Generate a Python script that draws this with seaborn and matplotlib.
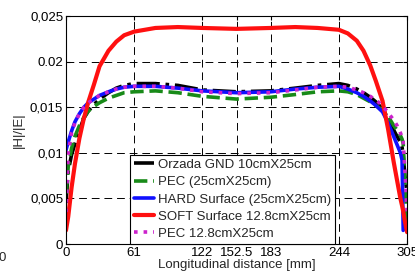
import numpy as np
import pandas as pd
import matplotlib
matplotlib.use("Agg")
import matplotlib.pyplot as plt
import seaborn as sns

# sample positions along the line [mm]
distance = [0, 2, 5, 8, 12, 16, 20, 25, 30, 38, 45, 52, 61,
            80, 100, 122, 152.5, 183, 205, 225,
            244, 252, 260, 266, 272, 277, 283, 288, 293, 296, 299, 300.5, 301.5, 303, 305]

orzada = [0.0045, 0.0080, 0.0098, 0.0110, 0.0125, 0.0138, 0.0146, 0.0153, 0.0159, 0.0166, 0.0171, 0.0174, 0.0176,
          0.0176, 0.0174, 0.0169, 0.0167, 0.0168, 0.0171, 0.0174,
          0.0176, 0.0174, 0.0170, 0.0166, 0.0161, 0.0156, 0.0148, 0.0138, 0.0125, 0.0118, 0.0112, 0.0106, 0.0098, 0.0075, 0.0055]
pec_25 = [0.0055, 0.0085, 0.0105, 0.0118, 0.0130, 0.0139, 0.0146, 0.0151, 0.0155, 0.0160, 0.0163, 0.0166, 0.0167,
          0.0168, 0.0166, 0.0162, 0.0159, 0.0161, 0.0164, 0.0167,
          0.0168, 0.0167, 0.0164, 0.0160, 0.0156, 0.0152, 0.0147, 0.0140, 0.0130, 0.0125, 0.0119, 0.0115, 0.0110, 0.0070, 0.0025]
hard = [0.0103, 0.0112, 0.0124, 0.0134, 0.0143, 0.0150, 0.0155, 0.0159, 0.0163, 0.0167, 0.0170, 0.0172, 0.0173,
        0.0173, 0.0171, 0.0168, 0.0166, 0.0167, 0.0170, 0.0172,
        0.0173, 0.0170, 0.0166, 0.0162, 0.0157, 0.0152, 0.0145, 0.0133, 0.0118, 0.0109, 0.0100, 0.0092, 0.0015, np.nan, np.nan]
soft = [0.0015, 0.0030, 0.0062, 0.0088, 0.0116, 0.0138, 0.0156, 0.0175, 0.0195, 0.0212, 0.0222, 0.0229, 0.0233,
        0.0237, 0.0238, 0.0237, 0.0236, 0.0237, 0.0238, 0.0237,
        0.0235, 0.0231, 0.0223, 0.0212, 0.0196, 0.0179, 0.0157, 0.0126, 0.0090, 0.0070, 0.0050, 0.0042, 0.0036, 0.0025, 0.0013]
pec_128 = [0.0035, 0.0100, 0.0122, 0.0133, 0.0143, 0.0150, 0.0155, 0.0159, 0.0163, 0.0167, 0.0170, 0.0172, 0.0173,
           0.0173, 0.0171, 0.0167, 0.0165, 0.0166, 0.0169, 0.0172,
           0.0173, 0.0172, 0.0169, 0.0166, 0.0162, 0.0158, 0.0152, 0.0144, 0.0136, 0.0130, 0.0122, 0.0117, 0.0112, 0.0080, 0.0035]

labels = ["Orzada GND 10cmX25cm", "PEC (25cmX25cm)", "HARD Surface (25cmX25cm)",
          "SOFT Surface 12.8cmX25cm", "PEC 12.8cmX25cm"]
x_ticks = [0, 61, 122, 152.5, 183, 244, 305]
x_tick_labels = ["0", "61", "122", "152.5", "183", "244", "305"]
y_ticks = [0, 0.005, 0.01, 0.015, 0.02, 0.025]
y_tick_labels = ["0", "0,005", "0,01", "0,015", "0.02", "0,025"]

sns.set_style("ticks")
plt.rcParams["font.family"] = ["Liberation Sans", "DejaVu Sans"]

fig = plt.figure(figsize=(4.15, 2.73), dpi=100)
ax = fig.add_axes([0.159, 0.106, 0.822, 0.835])

series = [orzada, pec_25, hard, soft, pec_128]
colors = ["black", "#188a18", "#1010ff", "#ff1010", "#cc22cc"]
styles = ["-.", "--", "-", "-", ":"]
widths = [2.6, 2.6, 2.6, 3.0, 2.6]

for vals, lab, c, ls, lw in zip(series, labels, colors, styles, widths):
    sns.lineplot(x=distance, y=vals, ax=ax, color=c, linestyle=ls,
                 linewidth=lw, label=lab)

ax.set_xlim(0, 305)
ax.set_ylim(0, 0.025)
ax.set_xticks(x_ticks)
ax.set_xticklabels(x_tick_labels)
ax.set_yticks(y_ticks)
ax.set_yticklabels(y_tick_labels)
ax.tick_params(direction="in", top=True, right=True, labelsize=9.5,
               length=3, pad=2, colors="black")
for s in ax.spines.values():
    s.set_visible(True)
    s.set_color("black")
    s.set_linewidth(0.8)

ax.grid(True, linestyle=(0, (8, 5)), color="black", linewidth=0.7)
ax.set_axisbelow(True)

ax.set_xlabel("Longitudinal distance [mm]", fontsize=9.5, labelpad=0)
ax.set_ylabel("|H|/|E|", fontsize=9.5, labelpad=4)

leg = ax.legend(loc="lower left", bbox_to_anchor=(0.188, 0.0), fontsize=9.5,
                frameon=True, fancybox=False, framealpha=1, edgecolor="black",
                handlelength=1.5, handletextpad=0.3, labelspacing=0.38,
                borderpad=0.3, borderaxespad=0)
leg.get_frame().set_linewidth(0.8)

fig.text(-0.004, 0.045, "0", fontsize=9.5)

fig.savefig("out.png", dpi=100)
